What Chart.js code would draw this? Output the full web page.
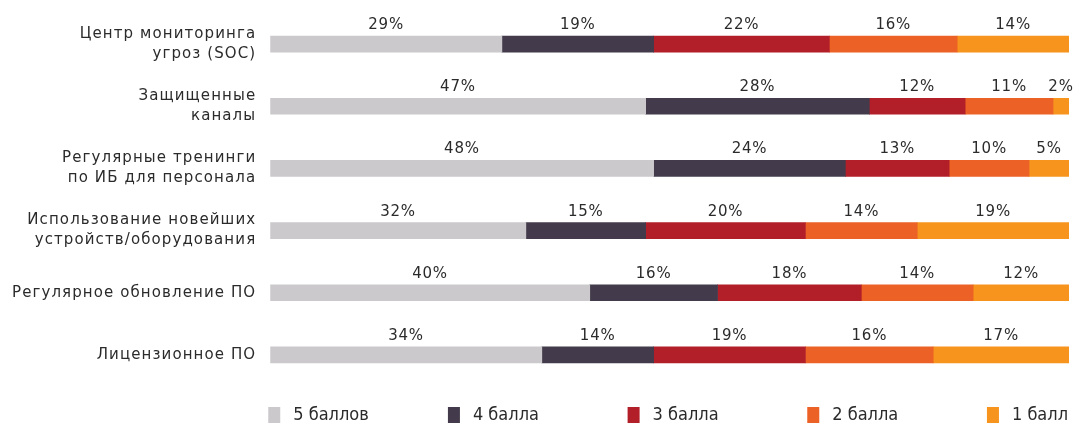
<!DOCTYPE html>
<html>
<head>
<meta charset="utf-8">
<script src="https://cdn.jsdelivr.net/npm/chart.js@4"></script>
<style>
  html, body { margin: 0; padding: 0; background: #fff; }
  #wrap { width: 1079px; height: 423px; }
</style>
</head>
<body>
<div id="wrap"><canvas id="chart"></canvas></div>
<script>
var categories = [
    ["Центр мониторинга", "угроз (SOC)"],
    ["Защищенные", "каналы"],
    ["Регулярные тренинги", "по ИБ для персонала"],
    ["Использование новейших", "устройств/оборудования"],
    "Регулярное обновление ПО",
    "Лицензионное ПО"
]
var seriesNames = ["5 баллов", "4 балла", "3 балла", "2 балла", "1 балл"]
var score5 = [29, 47, 48, 32, 40, 34]
var score4 = [19, 28, 24, 15, 16, 14]
var score3 = [22, 12, 13, 20, 18, 19]
var score2 = [16, 11, 10, 14, 14, 16]
var score1 = [14, 2, 5, 19, 12, 17]
var colors = ['#cbc9cc', '#433b4b', '#b31f29', '#ec6125', '#f7941e']

var allSeries = [score5, score4, score3, score2, score1]
var textColor = '#2b2b2b'

// разрядка для подписей оси (шрифт в оригинале широкий)
var spacing = {
    id: 'spacing',
    beforeUpdate: function (chart) { chart.ctx.letterSpacing = '1.1px' },
    beforeDraw: function (chart) { chart.ctx.letterSpacing = '1.1px' }
}

// подписи над каждым сегментом
var valueLabels = {
    id: 'valueLabels',
    afterDatasetsDraw: function (chart) {
        var ctx = chart.ctx
        ctx.save()
        ctx.letterSpacing = '0.8px'
        ctx.font = '15px "DejaVu Sans"'
        ctx.fillStyle = textColor
        ctx.textAlign = 'center'
        ctx.textBaseline = 'alphabetic'
        chart.data.datasets.forEach(function (ds, i) {
            var meta = chart.getDatasetMeta(i)
            meta.data.forEach(function (bar, j) {
                var cx = (bar.x + bar.base) / 2
                var top = bar.y - bar.height / 2
                ctx.fillText(ds.data[j] + '%', cx, top - 7)
            })
        })
        ctx.restore()
    }
}

// легенда внизу, растянутая по ширине области графика
var bottomLegend = {
    id: 'bottomLegend',
    afterDraw: function (chart) {
        var ctx = chart.ctx
        var area = chart.chartArea
        var boxW = 12, boxH = 16, gap = 13
        ctx.save()
        ctx.letterSpacing = '0px'
        ctx.font = '18px "DejaVu Sans Condensed"'
        ctx.textBaseline = 'middle'
        ctx.textAlign = 'left'
        var widths = seriesNames.map(function (s) { return boxW + gap + ctx.measureText(s).width })
        var step = (area.right + 1 - widths[widths.length - 1] - area.left) / (seriesNames.length - 1)
        var y = area.bottom + 21
        seriesNames.forEach(function (name, i) {
            var x = area.left - 2 + step * i
            ctx.fillStyle = colors[i]
            ctx.fillRect(x, y, boxW, boxH)
            ctx.fillStyle = textColor
            ctx.fillText(name, x + boxW + gap, y + 8)
        })
        ctx.restore()
    }
}

var ctx = document.getElementById("chart")

var ChartGraph = new Chart(ctx, {
    type: 'bar',
    data: {
        labels: categories,
        datasets: allSeries.map(function (vals, i) {
            return {
                label: seriesNames[i],
                data: vals,
                backgroundColor: colors[i],
                borderWidth: 0,
                barThickness: 16
            }
        })
    },
    options: {
        indexAxis: 'y',
        responsive: true,
        maintainAspectRatio: false,
        animation: false,
        layout: { padding: { top: 13, right: 10, left: 6, bottom: 37 } },
        scales: {
            x: {
                stacked: true,
                min: 0,
                max: 100,
                display: false
            },
            y: {
                stacked: true,
                grid: { display: false },
                border: { display: false },
                afterFit: function (scale) {
                    scale.paddingTop = 0
                    scale.paddingBottom = 0
                },
                ticks: {
                    autoSkip: false,
                    color: textColor,
                    padding: 6,
                    font: { family: 'DejaVu Sans', size: 15, lineHeight: 1.33 }
                }
            }
        },
        plugins: {
            tooltip: { enabled: false },
            legend: { display: false }
        }
    },
    plugins: [spacing, valueLabels, bottomLegend]
})
</script>
</body>
</html>
